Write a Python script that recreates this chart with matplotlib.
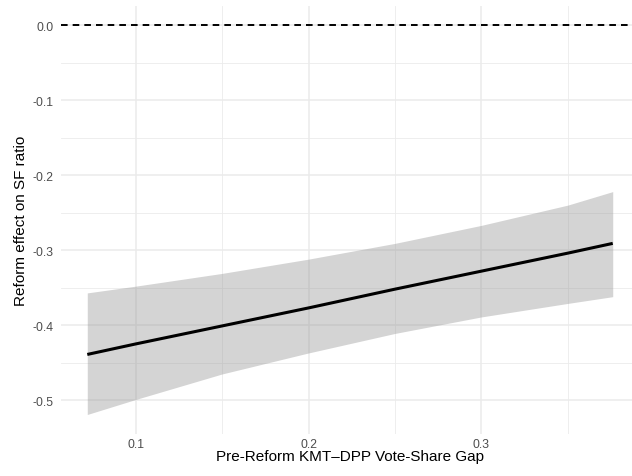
import numpy as np
import matplotlib
matplotlib.use('Agg')
import matplotlib.pyplot as plt
from matplotlib.ticker import MultipleLocator, FormatStrFormatter

# predicted effect of the reform along the vote-share gap, with the 95% band
gap = [0.072, 0.10, 0.15, 0.20, 0.25, 0.30, 0.35, 0.376]
effect = [-0.439, -0.425, -0.401, -0.377, -0.352, -0.328, -0.304, -0.291]
upper = [-0.357, -0.348, -0.331, -0.312, -0.291, -0.267, -0.240, -0.222]
lower = [-0.519, -0.499, -0.465, -0.437, -0.411, -0.389, -0.371, -0.362]

plt.rcParams['font.family'] = ['Liberation Sans', 'DejaVu Sans']

fig = plt.figure(figsize=(6.32, 4.77), dpi=100)
ax = fig.add_axes([61/632., 1 - 435/477., (639 - 61)/632., (435 - 6.5)/477.])

ax.fill_between(gap, lower, upper, color='#999999', alpha=0.42, lw=0, zorder=2)
ax.plot(gap, effect, color='black', lw=2.2, solid_capstyle='butt', zorder=3)
ax.axhline(0, color='black', lw=1.4, dashes=(3.4, 2.6), zorder=3)

ax.set_xlim(0.0568, 0.3912)
ax.set_ylim(-0.545, 0.026)

ax.xaxis.set_major_locator(MultipleLocator(0.1))
ax.xaxis.set_minor_locator(MultipleLocator(0.05))
ax.yaxis.set_major_locator(MultipleLocator(0.1))
ax.yaxis.set_minor_locator(MultipleLocator(0.05))
ax.xaxis.set_major_formatter(FormatStrFormatter('%.1f'))
ax.yaxis.set_major_formatter(FormatStrFormatter('%.1f'))

ax.grid(True, 'major', color='#EBEBEB', lw=1.1, zorder=0)
ax.grid(True, 'minor', color='#EBEBEB', lw=0.6, zorder=0)
ax.set_axisbelow(True)
for s in ax.spines.values():
    s.set_visible(False)

ax.tick_params(which='both', length=0)
ax.tick_params(axis='x', pad=3, labelsize=8.8, labelcolor='#4D4D4D')
ax.tick_params(axis='y', pad=5.5, labelsize=8.8, labelcolor='#4D4D4D')

ax.set_xlabel('Pre-Reform KMT\u2013DPP Vote-Share Gap', fontsize=11, labelpad=-1)
ax.set_ylabel('Reform effect on SF ratio', fontsize=11, labelpad=3)

fig.savefig('out.png', dpi=100)
